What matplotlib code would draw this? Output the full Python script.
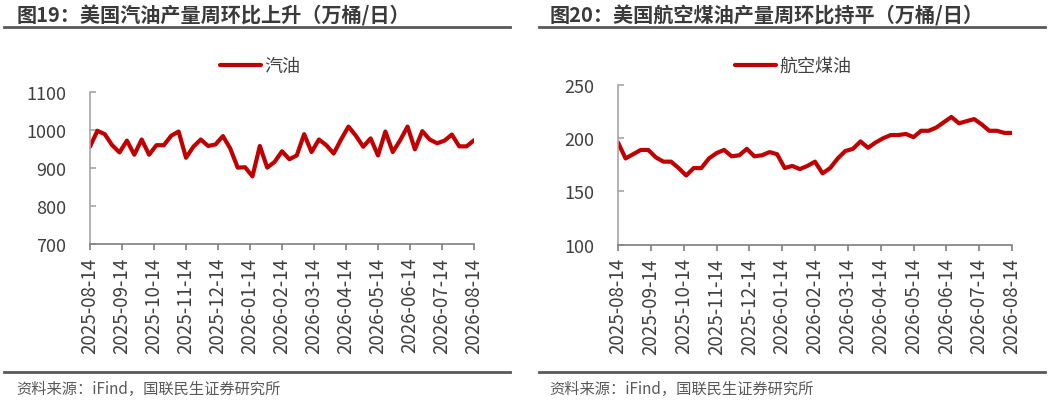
import numpy as np
import matplotlib
matplotlib.use("Agg")
from matplotlib import pyplot as plt
from matplotlib.lines import Line2D

plt.rcParams['font.family'] = ['Noto Sans CJK SC', 'DejaVu Sans']

# weekly values, 2025-08-14 .. 2026-08-14
gasoline = [956, 998, 989, 960, 941, 972, 935, 975, 935, 960,
            960, 985, 996, 927, 956, 975, 958, 962, 984, 951,
            901, 902, 878, 958, 901, 916, 944, 923, 933, 989,
            942, 975, 960, 938, 975, 1009, 985, 956, 978, 933,
            996, 942, 973, 1009, 949, 997, 975, 965, 972, 988,
            957, 957, 973]
jet_fuel = [196, 181, 185, 189, 189, 182, 178, 178, 172, 165,
            172, 172, 181, 186, 189, 183, 184, 190, 183, 184,
            187, 185, 172, 174, 171, 174, 178, 167, 172, 181,
            188, 190, 197, 191, 196, 200, 203, 203, 204, 201,
            207, 207, 210, 215, 220, 214, 216, 218, 213, 207,
            207, 205, 205]
tick_labels = ['2025-08-14', '2025-09-14', '2025-10-14', '2025-11-14',
               '2025-12-14', '2026-01-14', '2026-02-14', '2026-03-14',
               '2026-04-14', '2026-05-14', '2026-06-14', '2026-07-14',
               '2026-08-14']

W, H = 1049, 406
RED = '#C00000'
TXT = '#404040'

fig = plt.figure(figsize=(W / 100, H / 100), dpi=100)


def draw_panel(rect, values, name, ylim, yticks, legend_x, title, title_x, line_x0, line_x1):
    ax = fig.add_axes(rect)
    x = np.arange(len(values))
    ax.plot(x, values, color=RED, lw=3.0, solid_joinstyle='round', solid_capstyle='round', label=name)
    ax.set_xlim(0, len(values) - 1)
    ax.set_ylim(*ylim)
    ax.set_yticks(yticks)
    ax.set_xticks(np.linspace(0, len(values) - 1, len(tick_labels)))
    ax.set_xticklabels(tick_labels, rotation=90)
    for s in ['top', 'right']:
        ax.spines[s].set_visible(False)
    ax.spines['left'].set_color('#A6A6A6')
    ax.spines['bottom'].set_color('#7F7F7F')
    ax.spines['left'].set_linewidth(1.2)
    ax.spines['bottom'].set_linewidth(1.2)
    ax.tick_params(axis='y', direction='in', length=4.5, width=1.2, color='#A6A6A6',
                   labelsize=13, labelcolor=TXT, pad=17)
    ax.tick_params(axis='x', direction='out', length=4, width=1.2, color='#7F7F7F',
                   labelsize=13.5, labelcolor=TXT, pad=5)
    ax.legend(loc='center', bbox_to_anchor=(legend_x / W, 1 - 67 / H),
              bbox_transform=fig.transFigure, frameon=False, fontsize=13,
              handlelength=2.3, handletextpad=0.15, labelcolor=TXT)

    fig.text(title_x / W, 1 - 15.5 / H, title, fontsize=14.5, fontweight='bold',
             color='#3A3A3A', va='center', ha='left')
    fig.add_artist(Line2D([line_x0 / W, line_x1 / W], [1 - 28 / H, 1 - 28 / H],
                          color='#595959', lw=2))
    fig.add_artist(Line2D([line_x0 / W, line_x1 / W], [1 - 373 / H, 1 - 373 / H],
                          color='#595959', lw=2))
    fig.text((title_x - 1) / W, 1 - 389 / H, '资料来源：iFind，国联民生证券研究所',
             fontsize=11, color='#595959', va='center', ha='left')
    return ax


draw_panel([90 / W, 1 - 245 / H, 384 / W, 152 / H], gasoline, '汽油',
           (700, 1100), [700, 800, 900, 1000, 1100], 260,
           '图19：美国汽油产量周环比上升（万桶/日）', 17, 4, 510)
draw_panel([618 / W, 1 - 245.7 / H, 394 / W, 159.7 / H], jet_fuel, '航空煤油',
           (100, 250), [100, 150, 200, 250], 793,
           '图20：美国航空煤油产量周环比持平（万桶/日）', 550, 539, 1045)

fig.savefig('out.png', dpi=100, facecolor='white')
